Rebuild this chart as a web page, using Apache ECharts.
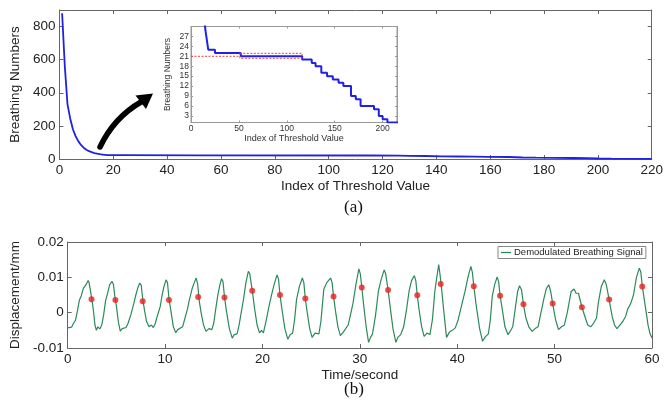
<!DOCTYPE html>
<html>
<head>
<meta charset="utf-8">
<script src="https://cdn.jsdelivr.net/npm/echarts@6/dist/echarts.min.js"></script>
<style>html,body{margin:0;padding:0;background:#fff}#c{width:666px;height:404px}</style>
</head>
<body>
<div id="c"></div>
<script>
// ---- (a) breathing numbers vs index of threshold value ----
const thresholdIndex = [1,2,3,4,5,6,7,8,9,10,11,12,13,14,15,16,17,18,25,25,52,52,116,116,126,126,130,130,136,136,142,142,148,148,154,154,159,159,167,167,172,172,177,177,191,191,196,196,200,200,205,205,220];
const breathingNumbers = [880,560,330,245,180,138,108,85,68,56,47,41,36,32,29,27,25,23,23,22,22,21,21,20,20,19,19,18,18,16,16,15,15,14,14,13,13,12,12,9,9,8,8,6,6,5,5,3,3,2,2,1,1];
// red dashed reference marks in the inset
const refLineLeft = [[0,21],[51,21]];
const refBox = [[51,21.9],[116,21.9],[116,20.4],[51,20.4],[51,21.9]];
const insetYTicks = [3,6,9,12,15,18,21,24,27];

// ---- (b) demodulated breathing signal ----
const breathingSignal = [
[0,-0.0043],[0.2,-0.0048],[0.4,-0.0041],[0.6,-0.0030],[0.8,-0.0022],[1.0,0.0005],[1.2,0.0035],[1.4,0.0048],[1.6,0.0068],[1.75,0.0072],[1.9,0.0080],[2.1,0.0091],[2.2,0.0085],[2.35,0.0060],[2.5,0.0035],[2.65,0.0005],[2.8,-0.0035],[2.95,-0.0050],[3.1,-0.0040],[3.3,-0.0046],[3.5,-0.0035],[3.7,-0.0005],[3.9,0.0035],[4.1,0.0055],[4.3,0.0078],[4.55,0.0089],[4.7,0.0080],[4.85,0.0045],[5.0,0.0020],[5.2,-0.0025],[5.4,-0.0052],[5.6,-0.0045],[5.8,-0.0050],[6.0,-0.0042],[6.2,-0.0030],[6.5,-0.0005],[6.8,0.0027],[7.0,0.0050],[7.2,0.0070],[7.4,0.0084],[7.55,0.0078],[7.7,0.0040],[7.9,0.0005],[8.1,-0.0025],[8.35,-0.0040],[8.6,-0.0035],[8.8,-0.0042],[9.0,-0.0030],[9.2,-0.0010],[9.5,0.0017],[9.7,0.0050],[9.9,0.0075],[10.1,0.0093],[10.25,0.0085],[10.4,0.0040],[10.6,0.0005],[10.85,-0.0040],[11.1,-0.0057],[11.3,-0.0048],[11.5,-0.0050],[11.8,-0.0040],[12.0,-0.0020],[12.3,0.0010],[12.5,0.0037],[12.8,0.0070],[13.0,0.0085],[13.2,0.0098],[13.35,0.0080],[13.5,0.0035],[13.7,0.0000],[13.95,-0.0035],[14.2,-0.0053],[14.5,-0.0045],[14.8,-0.0048],[15.0,-0.0030],[15.2,0.0010],[15.4,0.0047],[15.6,0.0075],[15.8,0.0096],[15.95,0.0088],[16.1,0.0045],[16.3,0.0005],[16.6,-0.0045],[16.9,-0.0072],[17.1,-0.0062],[17.4,-0.0060],[17.6,-0.0035],[17.85,0.0005],[18.05,0.0037],[18.3,0.0085],[18.55,0.0117],[18.7,0.0110],[18.95,0.0063],[19.2,0.0010],[19.45,-0.0035],[19.7,-0.0057],[19.9,-0.0050],[20.1,-0.0057],[20.4,-0.0020],[20.65,0.0015],[20.9,0.0046],[21.2,0.0080],[21.5,0.0107],[21.65,0.0095],[21.8,0.0051],[22.0,0.0010],[22.3,-0.0045],[22.6,-0.0075],[22.85,-0.0062],[23.1,-0.0058],[23.3,-0.0020],[23.5,0.0037],[23.8,0.0075],[24.1,0.0098],[24.25,0.0085],[24.4,0.0040],[24.6,0.0000],[24.85,-0.0045],[25.1,-0.0070],[25.4,-0.0058],[25.8,-0.0060],[26.0,-0.0025],[26.3,0.0066],[26.6,0.0085],[26.8,0.0090],[27.0,0.0098],[27.15,0.0085],[27.3,0.0046],[27.5,0.0005],[27.75,-0.0040],[28.0,-0.0065],[28.3,-0.0055],[28.5,-0.0058],[28.8,-0.0035],[29.05,-0.0005],[29.3,0.0027],[29.6,0.0080],[29.9,0.0124],[30.05,0.0110],[30.2,0.0072],[30.4,0.0020],[30.65,-0.0040],[30.9,-0.0084],[31.1,-0.0070],[31.3,-0.0060],[31.6,-0.0010],[31.9,0.0060],[32.2,0.0095],[32.5,0.0121],[32.65,0.0110],[32.9,0.0065],[33.1,0.0020],[33.4,-0.0045],[33.7,-0.0084],[33.9,-0.0070],[34.2,-0.0062],[34.5,-0.0040],[34.8,0.0010],[35.05,0.0060],[35.3,0.0090],[35.6,0.0105],[35.75,0.0090],[35.9,0.0049],[36.1,0.0005],[36.35,-0.0040],[36.6,-0.0067],[36.9,-0.0058],[37.2,-0.0062],[37.45,-0.0020],[37.7,0.0060],[37.9,0.0100],[38.1,0.0136],[38.2,0.0115],[38.35,0.0080],[38.6,0.0010],[38.9,-0.0070],[39.2,-0.0055],[39.5,-0.0050],[39.8,-0.0043],[40.1,-0.0020],[40.4,0.0015],[40.8,0.0060],[41.1,0.0100],[41.4,0.0131],[41.55,0.0115],[41.7,0.0076],[41.95,0.0020],[42.3,-0.0045],[42.6,-0.0081],[42.9,-0.0068],[43.2,-0.0060],[43.4,-0.0020],[43.6,0.0047],[43.85,0.0080],[44.1,0.0101],[44.25,0.0088],[44.4,0.0048],[44.65,0.0005],[44.9,-0.0040],[45.2,-0.0062],[45.5,-0.0050],[45.7,-0.0040],[45.95,0.0010],[46.2,0.0060],[46.4,0.0076],[46.6,0.0065],[46.8,0.0023],[47.05,-0.0015],[47.35,-0.0040],[47.7,-0.0053],[48.0,-0.0045],[48.3,-0.0040],[48.6,0.0000],[48.9,0.0040],[49.15,0.0068],[49.4,0.0079],[49.6,0.0060],[49.8,0.0025],[50.1,-0.0020],[50.4,-0.0048],[50.7,-0.0040],[51.0,-0.0035],[51.3,0.0000],[51.7,0.0060],[52.0,0.0067],[52.2,0.0055],[52.45,0.0055],[52.8,0.0016],[53.1,-0.0010],[53.4,-0.0035],[53.7,-0.0040],[54.0,-0.0030],[54.3,-0.0015],[54.5,0.0030],[54.8,0.0075],[55.1,0.0093],[55.3,0.0080],[55.6,0.0037],[55.9,-0.0010],[56.15,-0.0035],[56.4,-0.0045],[56.7,-0.0035],[57.0,-0.0025],[57.3,-0.0010],[57.5,0.0010],[57.8,0.0025],[58.1,0.0050],[58.4,0.0100],[58.7,0.0126],[58.85,0.0115],[59.0,0.0076],[59.3,0.0020],[59.6,-0.0036],[59.8,-0.0060],[60,-0.0072]
];
const peakMarks = [[2.45,0.0038],[4.9,0.0036],[7.7,0.0032],[10.4,0.0036],[13.4,0.0044],[16.1,0.0043],[18.95,0.0062],[21.8,0.0050],[24.4,0.0040],[27.3,0.0046],[30.2,0.0071],[32.9,0.0064],[35.9,0.0049],[38.3,0.0081],[41.7,0.0075],[44.4,0.0048],[46.8,0.0024],[49.8,0.0026],[52.8,0.0015],[55.6,0.0037],[59.0,0.0074]];

const mainCurve = thresholdIndex.map((x, i) => [x, breathingNumbers[i]]);

const FONT = 'Liberation Sans, Arial, sans-serif';
const AX = '#666';
function axis(opts) {
  const o = Object.assign({
    type: 'value',
    axisLine: { show: true, onZero: false, lineStyle: { color: AX, width: 1 } },
    axisTick: { show: true, inside: true, length: 4, lineStyle: { color: AX } },
    axisLabel: { show: true, color: '#222', fontFamily: FONT, fontSize: 13.5, margin: 4 },
    splitLine: { show: false },
    nameTextStyle: { color: '#222', fontFamily: FONT, fontSize: 13.5 }
  }, opts);
  return o;
}
function noLabel(o) { o.axisLabel = Object.assign({}, o.axisLabel, { show: false }); return o; }

const chart = echarts.init(document.getElementById('c'), null, { renderer: 'canvas' });
const insetLbl = { color: '#333', fontFamily: FONT, fontSize: 8.5, margin: 2 };
const insetAx = '#999';
const insetLine = { show: true, onZero: false, lineStyle: { color: insetAx } };
chart.setOption({
  animation: false,
  backgroundColor: '#fff',
  grid: [
    { left: 58, top: 10, width: 596, height: 149, show: false },
    { left: 191, top: 26.5, width: 206, height: 96, show: true, backgroundColor: '#fff', borderColor: insetAx, borderWidth: 1, z: 3 },
    { left: 58, top: 242, width: 594, height: 106, show: false }
  ],
  legend: {
    data: ['Demodulated Breathing Signal'],
    left: 498, top: 246.5,
    icon: 'rect',
    itemWidth: 10, itemHeight: 1.3, itemGap: 4,
    padding: [1, 3, 1, 3],
    borderColor: '#888', borderWidth: 1, borderRadius: 0, backgroundColor: '#fff',
    textStyle: { fontFamily: FONT, fontSize: 9.5, color: '#222', padding: [0, 0, 0, -2] }
  },
  xAxis: [
    axis({ gridIndex: 0, min: 0, max: 220, interval: 20, name: 'Index of Threshold Value', nameLocation: 'middle', nameGap: 20 }),
    noLabel(axis({ gridIndex: 0, min: 0, max: 220, interval: 20, position: 'top' })),
    axis({ gridIndex: 1, min: 0, max: 215, interval: 50, z: 4,
      axisLine: insetLine,
      axisTick: { show: true, inside: true, length: 2, lineStyle: { color: insetAx } },
      axisLabel: Object.assign({ showMaxLabel: false }, insetLbl),
      name: 'Index of Threshold Value', nameLocation: 'middle', nameGap: 11,
      nameTextStyle: { color: '#333', fontFamily: FONT, fontSize: 9 } }),
    noLabel(axis({ gridIndex: 1, min: 0, max: 215, interval: 50, position: 'top', z: 4,
      axisLine: insetLine,
      axisTick: { show: true, inside: true, length: 2, lineStyle: { color: insetAx } } })),
    axis({ gridIndex: 2, min: 0, max: 60, interval: 10, name: 'Time/second', nameLocation: 'middle', nameGap: 20 }),
    noLabel(axis({ gridIndex: 2, min: 0, max: 60, interval: 10, position: 'top' }))
  ],
  yAxis: [
    axis({ gridIndex: 0, min: 0, max: 900, interval: 200,
      axisLabel: { color: '#222', fontFamily: FONT, fontSize: 13.5, margin: 4, showMaxLabel: false },
      name: 'Breathing Numbers', nameLocation: 'middle', nameGap: 37, nameRotate: 90 }),
    noLabel(axis({ gridIndex: 0, min: 0, max: 900, interval: 200, position: 'right' })),
    axis({ gridIndex: 1, min: 1, max: 30, z: 4,
      axisLine: insetLine,
      axisTick: { show: true, inside: true, length: 2, lineStyle: { color: insetAx }, customValues: insetYTicks },
      axisLabel: Object.assign({ customValues: insetYTicks }, insetLbl),
      name: 'Breathing Numbers', nameLocation: 'middle', nameGap: 19, nameRotate: 90,
      nameTextStyle: { color: '#333', fontFamily: FONT, fontSize: 8.5 } }),
    noLabel(axis({ gridIndex: 1, min: 1, max: 30, position: 'right', z: 4,
      axisLine: insetLine,
      axisTick: { show: true, inside: true, length: 2, lineStyle: { color: insetAx }, customValues: insetYTicks } })),
    axis({ gridIndex: 2, min: -0.01, max: 0.02, interval: 0.01,
      axisLabel: { color: '#222', fontFamily: FONT, fontSize: 13.5, margin: 4, formatter: v => String(parseFloat(v.toFixed(3))) },
      name: 'Displacement/mm', nameLocation: 'middle', nameGap: 37, nameRotate: 90 }),
    noLabel(axis({ gridIndex: 2, min: -0.01, max: 0.02, interval: 0.01, position: 'right' }))
  ],
  series: [
    { type: 'line', xAxisIndex: 0, yAxisIndex: 0, data: mainCurve, symbol: 'none',
      lineStyle: { color: '#1f22e6', width: 1.8 }, clip: true },
    { type: 'line', xAxisIndex: 2, yAxisIndex: 2, data: mainCurve, symbol: 'none', z: 5,
      lineStyle: { color: '#1f22e6', width: 2 }, clip: true },
    { type: 'line', xAxisIndex: 2, yAxisIndex: 2, data: refLineLeft, symbol: 'none', z: 6,
      lineStyle: { color: '#f03a3a', width: 1, type: [2, 1.5] } },
    { type: 'line', xAxisIndex: 2, yAxisIndex: 2, data: refBox, symbol: 'none', z: 6,
      lineStyle: { color: '#f03a3a', width: 1, type: [2, 1.5] } },
    { type: 'line', name: 'Demodulated Breathing Signal', xAxisIndex: 4, yAxisIndex: 4, data: breathingSignal,
      symbol: 'none', lineStyle: { color: '#2b8a5b', width: 1.2 }, itemStyle: { color: '#2b8a5b' } },
    { type: 'scatter', xAxisIndex: 4, yAxisIndex: 4, data: peakMarks, symbol: 'circle', symbolSize: 6, z: 6,
      itemStyle: { color: '#e8221e' } }
  ],
  graphic: [
    { type: 'bezierCurve', shape: { x1: 100, y1: 147, cpx1: 114, cpy1: 117.5, x2: 141, y2: 102 },
      style: { stroke: '#000', lineWidth: 5.5, fill: null, lineCap: 'round' }, z: 10 },
    { type: 'polygon', shape: { points: [[153, 93.5], [135.5, 95.5], [146, 109]] },
      style: { fill: '#000' }, z: 10 },
    { type: 'text', left: 344, top: 199, style: { text: '(a)', font: '17px "Liberation Serif", "Times New Roman", serif', fill: '#111' } },
    { type: 'text', left: 344, top: 381, style: { text: '(b)', font: '17px "Liberation Serif", "Times New Roman", serif', fill: '#111' } }
  ]
});
</script>
</body>
</html>
